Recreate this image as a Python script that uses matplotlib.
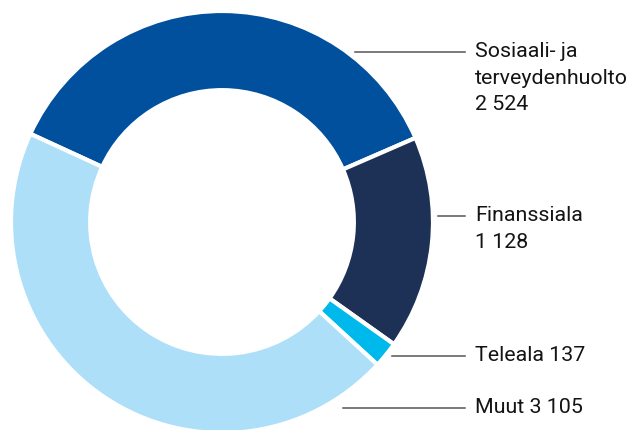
import matplotlib
matplotlib.use('Agg')
import matplotlib.pyplot as plt

# sector sizes
labels = ['Sosiaali- ja\nterveydenhuolto', 'Finanssiala', 'Teleala', 'Muut']
values = [2524, 1128, 137, 3105]
value_text = ['2 524', '1 128', '137', '3 105']
colors = ['#00509e', '#1d3157', '#00b9ec', '#addff8']

W, H = 635, 430
fig = plt.figure(figsize=(W / 100, H / 100), dpi=100)

# donut centre (222, 222) px from top-left, outer radius 211 px
cx, cy, R = 222, 222, 211
ax = fig.add_axes([(cx - R) / W, (H - cy - R) / H, 2 * R / W, 2 * R / H])
ax.pie(values, colors=colors, startangle=155.3, counterclock=False,
       radius=1.0, wedgeprops=dict(width=0.375, edgecolor='white', linewidth=3))
ax.set_xlim(-1, 1)
ax.set_ylim(-1, 1)
ax.axis('off')

# leader lines and labels, pixel positions (x start, y)
leaders = [(355, 52), (438, 216), (392, 356), (343, 408)]
two_line = [True, True, False, False]
x_end, x_text = 465, 475
for (x0, y0), lab, val, sep in zip(leaders, labels, value_text, two_line):
    line = plt.Line2D([x0 / W, x_end / W], [1 - y0 / H, 1 - y0 / H],
                      transform=fig.transFigure, color='#555555', lw=1.1)
    fig.add_artist(line)
    txt = lab + ('\n' if sep else ' ') + val
    fig.text(x_text / W, 1 - (y0 - 10) / H, txt, ha='left', va='top',
             fontsize=15.4, family='Roboto', color='#141414', linespacing=1.5)

fig.savefig('out.png', dpi=100)
